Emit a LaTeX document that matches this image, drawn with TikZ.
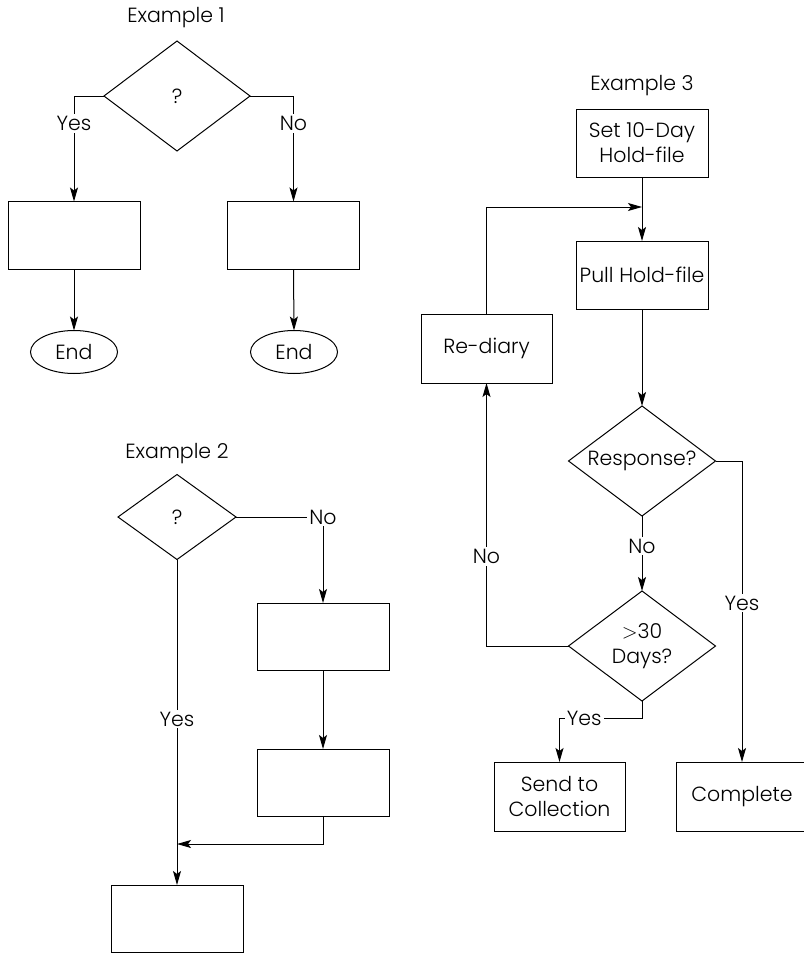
\documentclass[tikz,border=0pt]{standalone}
\usepackage{fontspec}
\setmainfont{Poppins Light}
\usetikzlibrary{shapes.geometric,arrows.meta}
\begin{document}
\begin{tikzpicture}[x=1pt,y=-1pt, line width=1pt, font=\fontsize{20.5}{25}\selectfont,
 box/.style={draw, rectangle, inner sep=0pt, outer sep=0pt, align=center, minimum width=132pt, minimum height=68pt},
 dia/.style={draw, diamond, inner sep=0pt, outer sep=0pt, aspect=1.33, align=center},
 oval/.style={draw, ellipse, inner sep=0pt, outer sep=0pt, minimum width=87pt, minimum height=43pt},
 arr/.style={-{Stealth[length=14pt,width=8pt,inset=3pt]}},
 lbl/.style={fill=white, inner sep=2pt},
 title/.style={inner sep=0pt}]
\useasboundingbox (0,0) rectangle (803,966);

% Example 1
\node[title] (t1) at (176,18) {Example 1};
\node[dia, minimum width=146pt, minimum height=110pt] (d1) at (177,96) {?};
\node[box] (b1) at (74,235.5) {};
\node[box] (b2) at (293.5,235.5) {};
\node[oval] (e1) at (74,352) {End};
\node[oval] (e2) at (294,352) {End};
\draw[arr] (d1.west) -| node[lbl,pos=0.63] (l1) {Yes} (b1.north);
\draw[arr] (d1.east) -| node[lbl,pos=0.63] (l2) {No} (b2.north);
\draw[arr] (b1.south) -- (e1.north);
\draw[arr] (b2.south) -- (e2.north);

% Example 2
\node[title] (t2) at (177,454) {Example 2};
\node[dia, minimum width=118pt, minimum height=85pt] (d2) at (177,517) {?};
\node[box, minimum height=67pt] (bA) at (323,636.5) {};
\node[box, minimum height=67pt] (bB) at (323,782.5) {};
\node[box, minimum height=67pt] (bC) at (177,918.5) {};
\coordinate (j2) at (177,844);
\draw[arr] (d2.east) -| node[lbl,pos=0.5] (l3) {No} (bA.north);
\draw[arr] (bA.south) -- (bB.north);
\draw[arr] (bB.south) |- (j2);
\draw[arr] (d2.south) -- node[lbl,pos=0.49] (l4) {Yes} (bC.north);

% Example 3
\node[title] (t3) at (642,86) {Example 3};
\node[box] (set) at (642,143) {Set 10-Day\\Hold-file};
\node[box] (pull) at (642,275) {Pull Hold-file};
\node[box, minimum width=131pt, minimum height=69pt] (rd) at (486.5,348.5) {Re-diary};
\node[dia, minimum width=147pt, minimum height=110pt] (resp) at (642,461) {Response?};
\node[dia, minimum width=147pt, minimum height=110pt] (days) at (642,646) {$>$30\\Days?};
\node[box, minimum width=131pt, minimum height=69pt] (send) at (559.5,796.5) {Send to\\Collection};
\node[box, minimum height=69pt] (comp) at (742,796.5) {Complete};
\coordinate (j3) at (642,207);
\draw[arr] (set.south) -- (pull.north);
\draw[arr] (rd.north) |- (j3);
\draw[arr] (pull.south) -- (resp.north);
\draw[arr] (resp.east) -| node[lbl,pos=0.736] (l5) {Yes} (comp.north);
\draw[arr] (resp.south) -- node[lbl,pos=0.4] (l6) {No} (days.north);
\draw[arr] (days.west) -| node[lbl,pos=0.67] (l7) {No} (rd.south);
\draw[arr] (days.south) -- ++(0,17) -| node[lbl,pos=0.35] (l8) {Yes} (send.north);
\end{tikzpicture}
\end{document}
